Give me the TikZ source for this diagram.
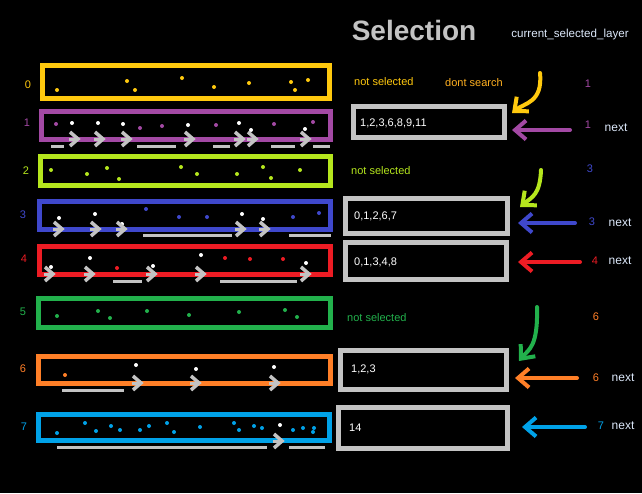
\documentclass[tikz,border=0pt]{standalone}
\usepackage{fontspec}
\setmainfont{Liberation Sans}
\usetikzlibrary{arrows.meta}
\definecolor{ylw}{HTML}{FFC90E}
\definecolor{purp}{HTML}{A349A4}
\definecolor{lime}{HTML}{B5E61D}
\definecolor{blu}{HTML}{3F48CC}
\definecolor{rd}{HTML}{ED1C24}
\definecolor{grn}{HTML}{22B14C}
\definecolor{org}{HTML}{FF7F27}
\definecolor{lblu}{HTML}{00A2E8}
\definecolor{gry}{HTML}{C3C3C3}
\definecolor{dontc}{HTML}{FFB020}
\definecolor{pale}{HTML}{DCE8FA}
\begin{document}
\begin{tikzpicture}[x=1pt,y=-1pt,
  bar/.style={draw=#1, line width=5pt, inner sep=0pt},
  boxx/.style={draw=gry, line width=5pt, inner sep=0pt},
  lbl/.style={font=\fontsize{11}{13}\selectfont, inner sep=0pt},
  conn/.style={line width=4pt, line cap=round, line join=round, -{Straight Barb[length=11pt,width=19pt]}},
  uline/.style={gry, line width=3pt},
  chev/.pic={\draw[gry, line width=3.5pt, line join=miter] (-8,-7) -- (0,0) -- (-8,7); \draw[gry, line width=3pt] (-9,0) -- (0,0);}
]
\fill[black] (0,0) rectangle (642,493);
\useasboundingbox (0,0) rectangle (642,493);

% title
\node[font=\fontsize{28}{30}\selectfont\bfseries, text=gry, inner sep=0pt] (title) at (414,30) {Selection};
\node[lbl, text=pale, font=\fontsize{11.6}{13}\selectfont] (csl) at (570,34) {current\_selected\_layer};

% bars
\node[bar=ylw,  minimum width=287pt, minimum height=33pt] (b0) at (186,82) {};
\node[bar=purp, minimum width=289pt, minimum height=28pt] (b1) at (186,125.5) {};
\node[bar=lime, minimum width=290pt, minimum height=29pt] (b2) at (185.5,171) {};
\node[bar=blu,  minimum width=291pt, minimum height=28pt] (b3) at (185,215.5) {};
\node[bar=rd,   minimum width=291pt, minimum height=28pt] (b4) at (185,260.5) {};
\node[bar=grn,  minimum width=292pt, minimum height=29pt] (b5) at (184.5,313) {};
\node[bar=org,  minimum width=292pt, minimum height=27pt] (b6) at (184.5,370) {};
\node[bar=lblu, minimum width=291pt, minimum height=26pt] (b7) at (184,427.5) {};

% left numbers
\node[lbl, text=ylw]  (n0) at (28,85) {0};
\node[lbl, text=purp] (n1) at (27,123) {1};
\node[lbl, text=lime] (n2) at (26,171) {2};
\node[lbl, text=blu]  (n3) at (23,215) {3};
\node[lbl, text=rd]   (n4) at (24,259) {4};
\node[lbl, text=grn]  (n5) at (23,312) {5};
\node[lbl, text=org]  (n6) at (23,369) {6};
\node[lbl, text=lblu] (n7) at (24,427) {7};

% dots
\foreach \p in {(57,90),(127,81),(135,90),(182,78),(214,87),(249,83),(291,82),(295,90),(308,80)} \fill[ylw] \p circle (2pt);
\foreach \p in {(56,124),(140,128),(162,126),(216,125),(274,124),(313,122)} \fill[purp] \p circle (2pt);
\foreach \p in {(72,123),(98,123),(123,124),(188,125),(239,123),(251,130),(305,129)} \fill[white] \p circle (2pt);
\foreach \p in {(51,170),(87,174),(107,168),(119,179),(181,167),(197,174),(237,174),(263,167),(271,178),(300,170)} \fill[lime] \p circle (2pt);
\foreach \p in {(146,209),(179,217),(207,217),(293,217),(319,213)} \fill[blu] \p circle (2pt);
\foreach \p in {(59,218),(95,214),(122,224),(242,214),(263,219)} \fill[white] \p circle (2pt);
\foreach \p in {(117,268),(225,258),(250,259),(283,259)} \fill[rd] \p circle (2pt);
\foreach \p in {(51,267),(90,258),(153,266),(201,255),(306,263)} \fill[white] \p circle (2pt);
\foreach \p in {(57,316),(98,311),(110,318),(147,311),(189,315),(239,312),(285,310),(297,317)} \fill[grn] \p circle (2pt);
\fill[org] (65,375) circle (2pt);
\foreach \p in {(136,365),(196,369),(274,367)} \fill[white] \p circle (2pt);
\foreach \p in {(57,433),(85,423),(96,431),(111,426),(120,430),(140,430),(149,426),(167,423),(174,432),(200,427),(234,423),(239,430),(254,426),(262,428),(293,430),(303,428),(314,428),(313,432)} \fill[lblu] \p circle (2pt);
\fill[white] (280,425) circle (2pt);

% chevrons and underlines
\foreach \x in {78,103,130,193,243,256,309} \pic at (\x,139) {chev};
\foreach \a/\b in {51/64,137/176,213/230,271/295,313/330} \draw[uline] (\a,146) -- (\b,146);
\foreach \x in {62,99,125,244,268} \pic at (\x,229) {chev};
\foreach \a/\b in {143/232,289/331} \draw[uline] (\a,235) -- (\b,235);
\foreach \x in {53,93,155,204,309} \pic at (\x,274) {chev};
\foreach \a/\b in {113/142,220/297} \draw[uline] (\a,281) -- (\b,281);
\foreach \x in {141,199,278} \pic at (\x,383) {chev};
\draw[uline] (62,390) -- (124,390);
\pic at (282,441) {chev};
\foreach \a/\b in {57/267,289/325} \draw[uline] (\a,447) -- (\b,447);

% result boxes
\node[boxx, minimum width=151pt, minimum height=31pt] (r1) at (429,122) {};
\node[boxx, minimum width=162pt, minimum height=35pt] (r3) at (426.5,216) {};
\node[boxx, minimum width=161pt, minimum height=37pt] (r4) at (426,261) {};
\node[boxx, minimum width=166pt, minimum height=39pt] (r6) at (423.5,370) {};
\node[boxx, minimum width=169pt, minimum height=41pt] (r7) at (423,428) {};
\node[lbl, text=white, anchor=west] (t1) at (360,123) {1,2,3,6,8,9,11};
\node[lbl, text=white, anchor=west] (t3) at (354,216) {0,1,2,6,7};
\node[lbl, text=white, anchor=west] (t4) at (354,262) {0,1,3,4,8};
\node[lbl, text=white, anchor=west] (t6) at (351,369) {1,2,3};
\node[lbl, text=white, anchor=west] (t7) at (349,428) {14};

% status texts
\node[lbl, text=ylw, anchor=west] (ns0) at (354,82) {not selected};
\node[lbl, text=dontc, anchor=west] (ds) at (445,83) {dont search};
\node[lbl, text=lime, anchor=west] (ns2) at (351,171) {not selected};
\node[lbl, text=grn, anchor=west] (ns5) at (347,318) {not selected};

% right numbers
\node[lbl, text=purp] (c0) at (588,84) {1};
\node[lbl, text=purp] (c1) at (588,125) {1};
\node[lbl, text=blu]  (c2) at (590,169) {3};
\node[lbl, text=blu]  (c3) at (592,222) {3};
\node[lbl, text=rd]   (c4) at (595,261) {4};
\node[lbl, text=org]  (c5) at (596,317) {6};
\node[lbl, text=org]  (c6) at (596,378) {6};
\node[lbl, text=lblu] (c7) at (601,426) {7};
\foreach \nm/\x/\y in {x1/616/128,x3/620/223,x4/620/261,x6/623/378,x7/623/426}
  \node[lbl, text=pale, font=\fontsize{12}{14}\selectfont] (\nm) at (\x,\y) {next};

% arrow tails
\coordinate (ya) at (540,73);
\coordinate (la) at (541,170);
\coordinate (ga) at (537,307);
\coordinate (pa) at (570,130);
\coordinate (ba) at (575,223);
\coordinate (ra) at (580,262);
\coordinate (oa) at (577,378);
\coordinate (ca) at (585,427);

% connectors
\draw[conn, ylw] (ya) .. controls +(3,30) and +(12,-10) .. ([xshift=5pt,yshift=-9pt]r1.north east);
\draw[conn, lime] (la) .. controls +(-1,25) and +(12,-10) .. ([xshift=10pt,yshift=-11pt]r3.north east);
\draw[conn, grn] (ga) .. controls +(1,40) and +(10,-12) .. ([xshift=10pt,yshift=-13pt]r6.north east);
\draw[conn, purp] (pa) -- ([xshift=5pt]pa -| r1.east);
\draw[conn, blu] (ba) -- ([xshift=8pt]ba -| r3.east);
\draw[conn, rd] (ra) -- ([xshift=9pt]ra -| r4.east);
\draw[conn, org] (oa) -- ([xshift=6pt]oa -| r6.east);
\draw[conn, lblu] (ca) -- ([xshift=12pt]ca -| r7.east);
\end{tikzpicture}
\end{document}
